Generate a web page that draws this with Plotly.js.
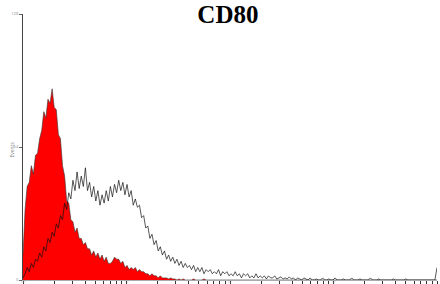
<!DOCTYPE html>
<html>
<head>
<meta charset="utf-8">
<script src="https://cdn.plot.ly/plotly-3.0.1.min.js"></script>
<style>html,body{margin:0;padding:0;background:#fff;}#chart{width:440px;height:284px;}</style>
</head>
<body>
<div id="chart"></div>
<script>
// Histogram channel counts (200 log-spaced channels over 4 decades)
const isotypeCounts = [
  12,34,45,47,55,51,60,61,68,72,81,78,87,85,92,83,82,70,68,55,
  50,38,37,29,28,23,25,20,20,17,18,15,15,12,14,11,13,10,12,9,
  11,8,8,9,11,10,10,8,9,6,7,5,6,5,6,4,5,4,4,3,
  3,2,3,2,2,1,2,1,1,1,0.5,1,0.5,0.5,0,0.5,0,0.5,0,0,
  0,0,0.5,0,0,0,0,0.5,0,0,0,0,0,0,0,0,0,0,0,0,
  0,0,0,0,0,0,0,0,0,0,0,0,0,0,0,0,0,0,0,0,
  0,0,0,0,0,0,0,0,0,0,0,0,0,0,0,0,0,0,0,0,
  0,0,0,0,0,0,0,0,0,0,0,0,0,0,0,0,0,0,0,0,
  0,0,0,0,0,0,0,0,0,0,0,0,0,0,0,0,0,0,0,0,
  0,0,0,0,0,0,0,0,0,0,0,0,0,0,0,0,0,0,0,0
];
const cd80Counts = [
  1,3,6,4,8,6,10,9,13,11,16,14,20,18,23,21,27,25,31,29,
  37,34,42,39,48,43,52,44,50,45,54,43,47,40,45,38,43,36,41,37,
  43,38,45,40,46,42,48,43,47,41,46,40,43,36,39,35,36,30,31,25,
  26,20,22,17,19,14,16,12,14,10,12,9,11,8,10,7,9,6,8,6,
  7,5,7,4,6,4,6,3,5,4,5,3,4,3,5,2,4,3,4,2,
  3,2,4,2,3,1,3,2,3,1,2,1,3,1,2,1,2,0.5,2,1,
  1,2,0.5,1,1.5,0.5,1,0.5,1.5,0.5,1,0,1,0.5,0,1,0.5,0,1,0,
  0,0.5,0,0,1,0,0,0.5,0,0,1,0,0,0,0.5,0,0,0,1,0,
  0,0,0.5,0,0,0,0,1,0,0,0,0.5,0,0,0,0,0,0,0.5,0,
  0,0,0,0,0.5,0,0,0,0,0,0,0,0,0,0,0,0,0,0,6
];
const yTickVals = [0, 64, 128];
const yTickText = ['0', '64', '128'];
const decadeLabels = ['10⁰', '10¹', '10²', '10³', '10⁴'];

const nChannels = 200, nDecades = 4;
const channels = isotypeCounts.map((_, i) => Math.pow(10, i * nDecades / (nChannels - 1)));

const xTickVals = [], xTickText = [];
for (let d = 0; d <= nDecades; d++) {
  for (let m = 1; m <= 9; m++) {
    if (d === nDecades && m > 1) break;
    xTickVals.push(m * Math.pow(10, d));
    xTickText.push(m === 1 ? decadeLabels[d] : '');
  }
}

const traces = [
  {x: channels, y: isotypeCounts, type: 'scatter', mode: 'lines',
   line: {shape: 'linear', color: '#333', width: 0.6},
   fill: 'tozeroy', fillcolor: '#ff0000', hoverinfo: 'skip'},
  {x: channels, y: cd80Counts, type: 'scatter', mode: 'lines',
   line: {shape: 'linear', color: '#111', width: 0.7}, hoverinfo: 'skip'}
];

const layout = {
  width: 440, height: 284,
  margin: {l: 23, r: 3, t: 14, b: 4},
  paper_bgcolor: '#fff', plot_bgcolor: '#fff',
  showlegend: false,
  title: {text: '<b>CD80</b>', font: {family: 'Liberation Serif', size: 25, color: '#000'},
          x: 0.518, xref: 'container', xanchor: 'center', y: 0.95, yref: 'container', yanchor: 'middle'},
  xaxis: {type: 'log', range: [0, nDecades], showgrid: false, zeroline: false,
          showline: true, linecolor: '#aaa', linewidth: 1,
          ticks: 'outside', ticklen: 3, tickwidth: 1, tickcolor: '#333',
          tickmode: 'array', tickvals: xTickVals, ticktext: xTickText,
          ticklabelstandoff: -5,
          tickfont: {size: 3, color: '#999'}},
  yaxis: {range: [0, 128], showgrid: false, zeroline: false,
          showline: true, linecolor: '#444', linewidth: 1,
          ticks: 'outside', ticklen: 3, tickwidth: 1, tickcolor: '#666',
          tickmode: 'array', tickvals: yTickVals, ticktext: yTickText,
          tickfont: {size: 4, color: '#888'}},
  annotations: [{text: 'Events', xref: 'paper', yref: 'paper', x: -0.027, y: 0.49,
                 textangle: -90, showarrow: false, font: {size: 5, color: '#888'},
                 xanchor: 'center', yanchor: 'middle'}]
};

Plotly.newPlot('chart', traces, layout, {staticPlot: true, displayModeBar: false});
</script>
</body>
</html>
